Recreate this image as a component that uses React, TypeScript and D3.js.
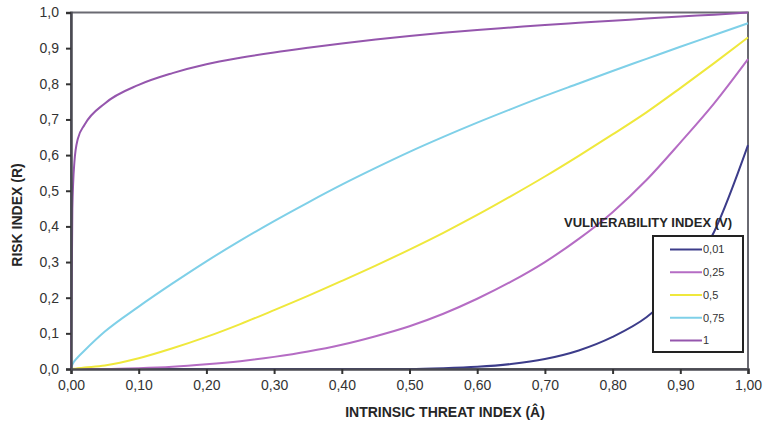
import React, {useEffect, useRef} from 'react';
import * as d3 from 'd3';

// intrinsic threat index (A) sample points
const threatIndex = [
    0, 0.002, 0.005, 0.01, 0.02, 0.05, 0.1, 0.15, 0.2, 0.25, 0.3, 0.35, 0.4, 0.45, 0.5, 0.55, 0.6, 0.65, 0.7, 0.75, 0.8,
    0.85, 0.9, 0.95, 1.0,
];

// risk index (R) per vulnerability index (V)
const risk001 = [
    0, 0, 0, 0, 0, 0, 0, 0, 0, 0, 0, 0, 0, 0, 0, 0.002, 0.006, 0.014, 0.028, 0.052, 0.09, 0.145, 0.235, 0.385, 0.628,
];
const risk025 = [
    0, 0, 0, 0, 0, 0, 0.002, 0.006, 0.013, 0.022, 0.034, 0.049, 0.068, 0.092, 0.12, 0.155, 0.197, 0.245, 0.3, 0.365,
    0.44, 0.53, 0.635, 0.745, 0.869,
];
const risk05 = [
    0, 0, 0.001, 0.002, 0.004, 0.01, 0.03, 0.058, 0.09, 0.126, 0.165, 0.205, 0.247, 0.29, 0.335, 0.382, 0.432, 0.485,
    0.54, 0.598, 0.658, 0.72, 0.788, 0.858, 0.93,
];
const risk075 = [
    0, 0.012, 0.022, 0.033, 0.052, 0.105, 0.175, 0.24, 0.302, 0.36, 0.415, 0.467, 0.517, 0.564, 0.609, 0.651, 0.691,
    0.729, 0.766, 0.801, 0.836, 0.87, 0.904, 0.937, 0.97,
];
const risk1 = [
    0, 0.45, 0.58, 0.645, 0.685, 0.745, 0.797, 0.83, 0.855, 0.873, 0.888, 0.901, 0.913, 0.924, 0.934, 0.943, 0.951,
    0.958, 0.965, 0.971, 0.977, 0.983, 0.989, 0.994, 1.0,
];

const seriesLabels = ['0,01', '0,25', '0,5', '0,75', '1'];
const seriesValues = [risk001, risk025, risk05, risk075, risk1];
const seriesColors = ['#3c3c8a', '#b56cc4', '#efe83c', '#7fd0e8', '#9556ad'];

const xTicks = [0, 0.1, 0.2, 0.3, 0.4, 0.5, 0.6, 0.7, 0.8, 0.9, 1.0];
const yTicks = [0, 0.1, 0.2, 0.3, 0.4, 0.5, 0.6, 0.7, 0.8, 0.9, 1.0];

const App = () => {
    const svgRef = useRef(null);

    useEffect(() => {
        document.body.style.margin = '0';
        const svg = d3.select(svgRef.current);
        svg.selectAll('*').remove();

        const margin = {top: 12.5, left: 71, right: 748, bottom: 369};
        const font = 'Arial, "Liberation Sans", sans-serif';

        const x = d3.scaleLinear().domain([0, 1]).range([margin.left, margin.right]);
        const y = d3.scaleLinear().domain([0, 1]).range([margin.bottom, margin.top]);

        // plot frame
        svg.append('rect')
            .attr('x', margin.left)
            .attr('y', margin.top)
            .attr('width', margin.right - margin.left)
            .attr('height', margin.bottom - margin.top)
            .attr('fill', 'none')
            .attr('stroke', '#6a6a72')
            .attr('stroke-width', 2);

        // curves
        const line = d3
            .line()
            .x((d) => x(d[0]))
            .y((d) => y(d[1]))
            .curve(d3.curveMonotoneX);

        seriesValues.forEach((vals, i) => {
            svg.append('path')
                .datum(threatIndex.map((t, j) => [t, vals[j]]))
                .attr('d', line)
                .attr('fill', 'none')
                .attr('stroke', seriesColors[i])
                .attr('stroke-width', 2);
        });

        // axes
        const xAxis = d3
            .axisBottom(x)
            .tickValues(xTicks)
            .tickSize(5)
            .tickFormat((d) => d3.format('.2f')(d).replace('.', ','));
        const gx = svg.append('g').attr('transform', `translate(0,${margin.bottom})`).call(xAxis);

        const yAxis = d3
            .axisLeft(y)
            .tickValues(yTicks)
            .tickSize(5)
            .tickFormat((d) => d3.format('.1f')(d).replace('.', ','));
        const gy = svg.append('g').attr('transform', `translate(${margin.left},0)`).call(yAxis);

        [gx, gy].forEach((g) => {
            g.select('.domain').attr('stroke', '#4a4a52').attr('stroke-width', 2.5);
            g.selectAll('.tick line').attr('stroke', '#333').attr('stroke-width', 2);
            g.selectAll('.tick text')
                .attr('font-family', font)
                .attr('font-size', 14)
                .attr('fill', '#333');
        });
        gx.selectAll('.tick text').attr('dy', '0.95em');
        gy.selectAll('.tick text').attr('x', -12);

        // axis titles
        svg.append('text')
            .attr('x', 445)
            .attr('y', 417)
            .attr('text-anchor', 'middle')
            .attr('font-family', font)
            .attr('font-weight', 'bold')
            .attr('font-size', 14)
            .attr('fill', '#262626')
            .text('INTRINSIC THREAT INDEX (Â)');

        svg.append('text')
            .attr('transform', 'translate(22,215) rotate(-90)')
            .attr('text-anchor', 'middle')
            .attr('font-family', font)
            .attr('font-weight', 'bold')
            .attr('font-size', 14)
            .attr('fill', '#262626')
            .text('RISK INDEX (R)');

        // legend
        svg.append('text')
            .attr('x', 648)
            .attr('y', 227)
            .attr('text-anchor', 'middle')
            .attr('font-family', font)
            .attr('font-weight', 'bold')
            .attr('font-size', 13)
            .attr('fill', '#262626')
            .text('VULNERABILITY INDEX (V)');

        svg.append('rect')
            .attr('x', 653)
            .attr('y', 236)
            .attr('width', 90)
            .attr('height', 116)
            .attr('fill', '#fff')
            .attr('stroke', '#222')
            .attr('stroke-width', 2);

        const rowY = d3.scalePoint().domain(seriesLabels).range([249.5, 340.5]);
        seriesLabels.forEach((lab, i) => {
            svg.append('line')
                .attr('x1', 670)
                .attr('x2', 702)
                .attr('y1', rowY(lab))
                .attr('y2', rowY(lab))
                .attr('stroke', seriesColors[i])
                .attr('stroke-width', 2);
            svg.append('text')
                .attr('x', 703)
                .attr('y', rowY(lab))
                .attr('dy', '0.35em')
                .attr('font-family', font)
                .attr('font-size', 11)
                .attr('fill', '#333')
                .text(lab);
        });
    }, []);

    return <svg ref={svgRef} width={763} height={421} style={{display: 'block', background: '#fff'}} />;
};

export default App;
